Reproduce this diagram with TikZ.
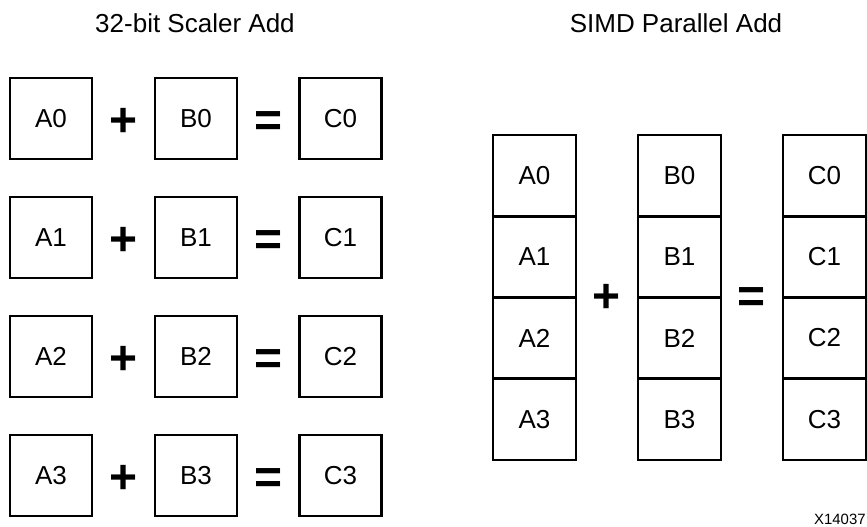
\documentclass[tikz,border=0pt]{standalone}
\usepackage{fontspec}
\setmainfont{Liberation Sans}
\usepackage{tikz}

\tikzset{
  regbox/.style={draw, line width=0.05cm, inner sep=0pt, outer sep=0pt,
    minimum width=1.64cm, minimum height=1.62cm, font=\fontsize{14.8}{17}\selectfont},
  lanebox/.style={regbox, minimum width=1.66cm, minimum height=1.625cm},
  opsign/.style={inner sep=0pt, anchor=base, yshift=-0.355cm, font=\fontsize{27.3}{30}\selectfont\bfseries},
  heading/.style={anchor=base, inner sep=0pt, font=\fontsize{14.8}{17}\selectfont}
}

\begin{document}
\begin{tikzpicture}
                \useasboundingbox (0,0) rectangle (17.34,10.54);
                % titles
                \node[heading] (scalartitle) at (3.9,9.88) {32-bit Scaler Add};
                \node[heading] (simdtitle) at (13.52,9.88) {SIMD Parallel Add};
                % scalar add, one row per element
                \node[regbox] (a0) at (1.02,8.17) {A0};
                \node[opsign] (p0) at (2.48,8.17) {+};
                \node[regbox] (b0) at (3.92,8.17) {B0};
                \node[opsign] (e0) at (5.38,8.17) {=};
                \node[regbox] (c0) at (6.81,8.17) {C0};
                \node[regbox] (a1) at (1.02,5.79) {A1};
                \node[opsign] (p1) at (2.48,5.79) {+};
                \node[regbox] (b1) at (3.92,5.79) {B1};
                \node[opsign] (e1) at (5.38,5.79) {=};
                \node[regbox] (c1) at (6.81,5.79) {C1};
                \node[regbox] (a2) at (1.02,3.41) {A2};
                \node[opsign] (p2) at (2.48,3.41) {+};
                \node[regbox] (b2) at (3.92,3.41) {B2};
                \node[opsign] (e2) at (5.38,3.41) {=};
                \node[regbox] (c2) at (6.81,3.41) {C2};
                \node[regbox] (a3) at (1.02,1.03) {A3};
                \node[opsign] (p3) at (2.48,1.03) {+};
                \node[regbox] (b3) at (3.92,1.03) {B3};
                \node[opsign] (e3) at (5.38,1.03) {=};
                \node[regbox] (c3) at (6.81,1.03) {C3};
                % simd add, lanes stacked in one register
                \node[lanebox] (sa0) at (10.69,7.03) {A0};
                \node[lanebox] (sa1) at (10.69,5.40) {A1};
                \node[lanebox] (sa2) at (10.69,3.78) {A2};
                \node[lanebox] (sa3) at (10.69,2.15) {A3};
                \node[lanebox] (sb0) at (13.59,7.03) {B0};
                \node[lanebox] (sb1) at (13.59,5.40) {B1};
                \node[lanebox] (sb2) at (13.59,3.78) {B2};
                \node[lanebox] (sb3) at (13.59,2.15) {B3};
                \node[lanebox] (sc0) at (16.49,7.03) {C0};
                \node[lanebox] (sc1) at (16.49,5.40) {C1};
                \node[lanebox] (sc2) at (16.49,3.78) {C2};
                \node[lanebox] (sc3) at (16.49,2.15) {C3};
                \node[opsign] (sp) at (12.14,4.64) {+};
                \node[opsign] (se) at (15.04,4.64) {=};
                % figure number
                \node[anchor=base east, inner sep=0pt, font=\fontsize{8.5}{10}\selectfont] (fignum) at (17.32,0.04) {X14037};
            \end{tikzpicture}
\end{document}
